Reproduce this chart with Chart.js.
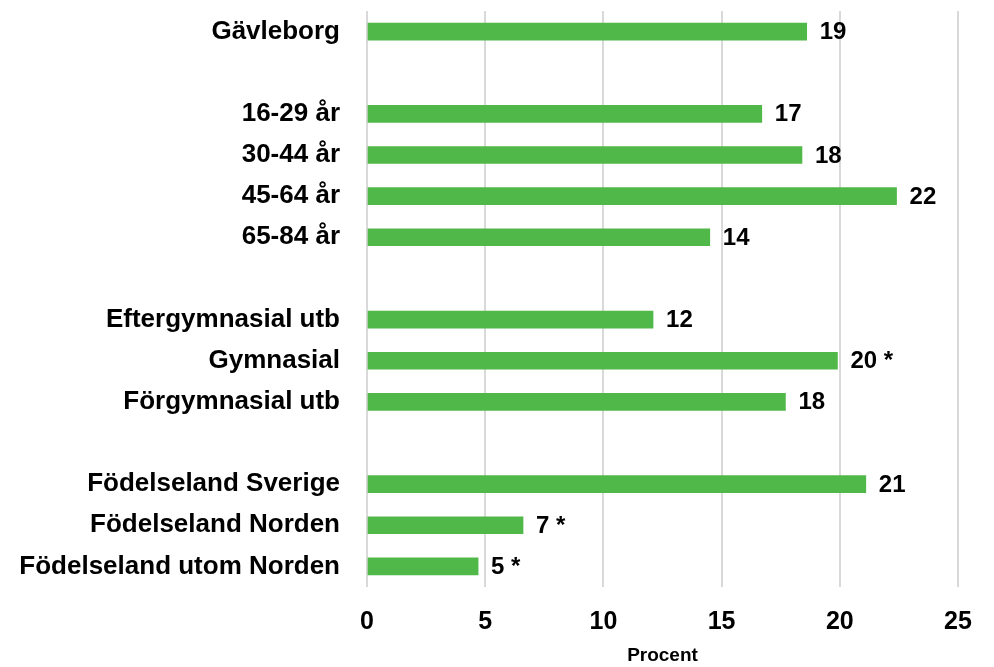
<!DOCTYPE html>
<html>
<head>
<meta charset="utf-8">
<script src="https://cdn.jsdelivr.net/npm/chart.js@4"></script>
<style>
  html, body { margin: 0; padding: 0; background: #fff; }
  #wrap { width: 994px; height: 667px; }
</style>
</head>
<body>
<div id="wrap"><canvas id="grafico" width="994" height="667"></canvas></div>
<script>
// rader i diagrammet (tomma strängar = mellanrum mellan grupperna)
const kategorier = [
    'Gävleborg', '',
    '16-29 år', '30-44 år', '45-64 år', '65-84 år', '',
    'Eftergymnasial utb', 'Gymnasial', 'Förgymnasial utb', '',
    'Födelseland Sverige', 'Födelseland Norden', 'Födelseland utom Norden'
];
const andelar = [18.6, null, 16.7, 18.4, 22.4, 14.5, null, 12.1, 19.9, 17.7, null, 21.1, 6.6, 4.7];
const etiketter = ['19', '', '17', '18', '22', '14', '', '12', '20 *', '18', '', '21', '7 *', '5 *'];
const xTicks = [0, 5, 10, 15, 20, 25];

const fontFamily = '"Liberation Sans", Arial, sans-serif';

const vardeEtiketter = {
    id: 'vardeEtiketter',
    afterDatasetsDraw(chart) {
        const ctx = chart.ctx;
        const meta = chart.getDatasetMeta(0);
        ctx.save();
        ctx.font = 'bold 24px ' + fontFamily;
        ctx.fillStyle = '#000';
        ctx.textAlign = 'left';
        ctx.textBaseline = 'middle';
        meta.data.forEach((bar, i) => {
            if (andelar[i] == null) return;
            ctx.fillText(etiketter[i], bar.x + 13, bar.y + 1);
        });
        ctx.restore();
    }
};

const ctx = document.getElementById('grafico').getContext('2d');
new Chart(ctx, {
    type: 'bar',
    data: {
        labels: kategorier,
        datasets: [{
            data: andelar,
            backgroundColor: '#50b848',
            barThickness: 17
        }]
    },
    options: {
        responsive: false,
        animation: false,
        indexAxis: 'y',
        layout: { padding: { top: 11, right: 36, left: 0, bottom: 0 } },
        scales: {
            x: {
                min: 0,
                max: 25,
                afterBuildTicks: scale => { scale.ticks = xTicks.map(v => ({ value: v })); },
                afterFit: scale => { scale.height = 80; },
                border: { display: false },
                grid: { color: '#d9d9d9', lineWidth: 2, drawTicks: false },
                ticks: {
                    color: '#000',
                    padding: 20,
                    font: { family: fontFamily, size: 25, weight: 'bold' }
                },
                title: {
                    display: true,
                    text: 'Procent',
                    color: '#000',
                    padding: { top: 0, bottom: 0 },
                    font: { family: fontFamily, size: 19, weight: 'bold' }
                }
            },
            y: {
                afterFit: scale => {
                    scale.width = 367;
                    scale.paddingTop = 0;
                    scale.paddingBottom = 0;
                },
                border: { display: false },
                grid: { display: false, drawTicks: false },
                ticks: {
                    color: '#000',
                    padding: 27,
                    autoSkip: false,
                    font: { family: fontFamily, size: 26, weight: 'bold' }
                }
            }
        },
        plugins: {
            legend: { display: false },
            tooltip: { enabled: false }
        }
    },
    plugins: [vardeEtiketter]
});
</script>
</body>
</html>
